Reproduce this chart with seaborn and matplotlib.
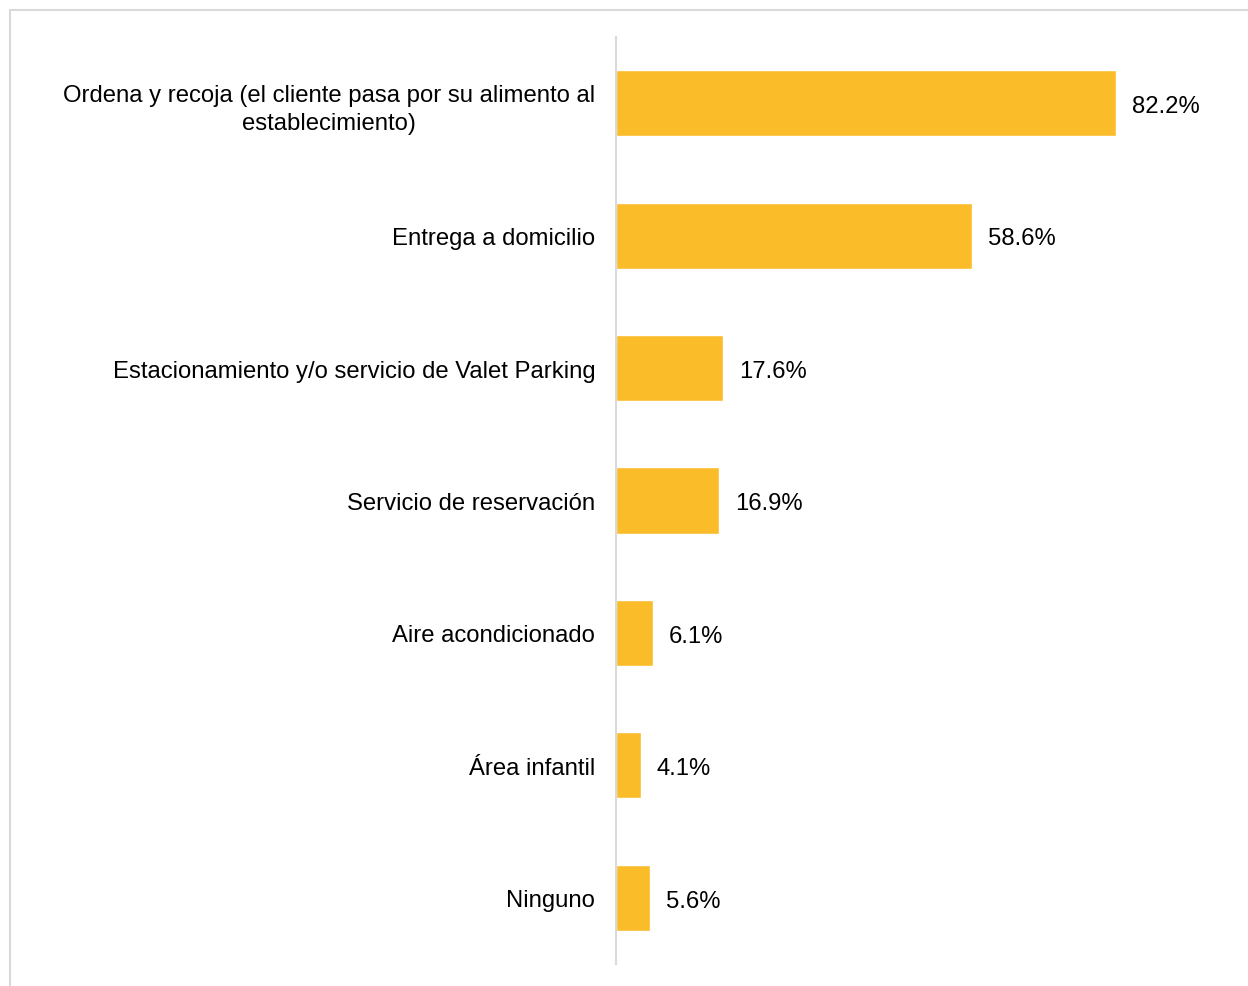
import matplotlib
matplotlib.use("Agg")
import matplotlib.pyplot as plt
from matplotlib.patches import Rectangle
import seaborn as sns
import pandas as pd

categorias = [
    "Ordena y recoja (el cliente pasa por su alimento al\nestablecimiento)",
    "Entrega a domicilio",
    "Estacionamiento y/o servicio de Valet Parking",
    "Servicio de reservación",
    "Aire acondicionado",
    "Área infantil",
    "Ninguno",
]
porcentajes = [82.2, 58.6, 17.6, 16.9, 6.1, 4.1, 5.6]

sns.set_theme(style="white")
plt.rcParams["font.family"] = ["Liberation Sans", "DejaVu Sans"]

df = pd.DataFrame({"servicio": categorias, "pct": porcentajes})

fig = plt.figure(figsize=(12.48, 9.87), dpi=100)
W, H = 1248, 987
ax = fig.add_axes([616 / W, 1 - 965 / H, (W - 616) / W, (965 - 38) / H])

sns.barplot(data=df, x="pct", y="servicio", orient="h", color="#FBBC2A",
            saturation=1, width=0.5, ax=ax)

ax.set_xlim(0, (W - 616) / 6.083)
ax.set_ylim(len(categorias) - 0.5, -0.5)
ax.set_xlabel("")
ax.set_ylabel("")
ax.set_xticks([])
for s in ["top", "right", "bottom"]:
    ax.spines[s].set_visible(False)
ax.spines["left"].set_color("#d9d9d9")
ax.spines["left"].set_linewidth(1.5)
ax.tick_params(axis="y", length=0, pad=15, labelsize=17.2, labelcolor="black")
for lbl in ax.get_yticklabels():
    lbl.set_multialignment("center")
    lbl.set_linespacing(1.35)

for i, v in enumerate(porcentajes):
    ax.annotate(f"{v:.1f}%", xy=(v, i), xytext=(11.5, -2), textcoords="offset points",
                va="center", ha="left", fontsize=17.2, color="black")

# light frame around the chart area
fig.patches.append(Rectangle((10 / W, -0.01), 1.0, 1 - 10.5 / H + 0.01,
                             transform=fig.transFigure, fill=False,
                             edgecolor="#d9d9d9", linewidth=1.5))

fig.savefig("out.png", dpi=100, facecolor="white")
